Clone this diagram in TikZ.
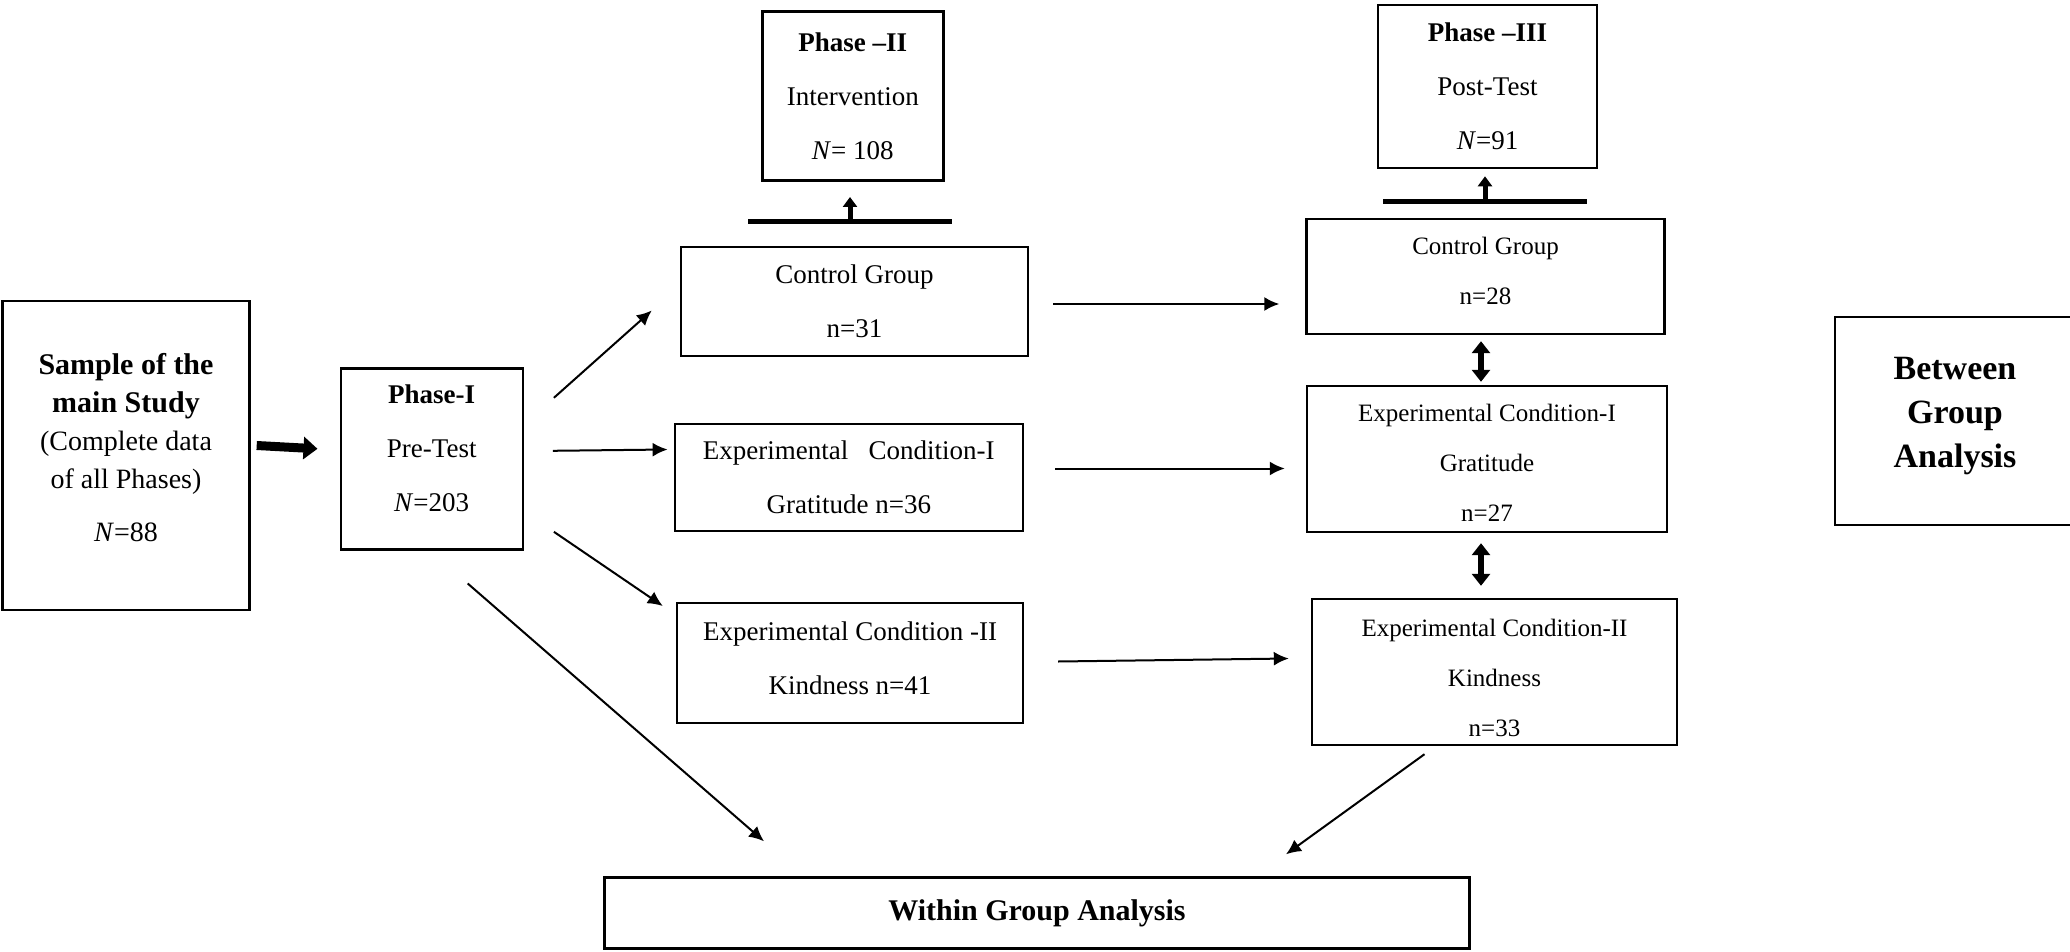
\documentclass[tikz,border=0pt]{standalone}
\usepackage{fontspec}
\setmainfont{Liberation Serif}
\usetikzlibrary{arrows.meta,calc}
\tikzset{
  box/.style={draw, line width=2.4pt, inner sep=0pt, align=center},
  bigtxt/.style={font=\fontsize{27}{54}\selectfont},
  smalltxt/.style={font=\fontsize{25}{50}\selectfont},
  arr/.style={line width=2pt, -{Latex[length=15pt,width=14pt]}},
  fatarr/.style={line width=9pt, -{Triangle[length=14pt,width=22pt]}},
  uparr/.style={line width=5pt, -{Triangle[length=10pt,width=14pt]}},
  dblarr/.style={line width=6pt, {Triangle[length=12pt,width=18pt]}-{Triangle[length=12pt,width=18pt]}},
  bar/.style={fill=black, minimum height=5pt, inner sep=0pt},
}
\begin{document}
\begin{tikzpicture}[x=1pt,y=-1pt]
\useasboundingbox (0,0) rectangle (2070,952);
% boxes
\node[box, minimum width=247pt, minimum height=309pt, font=\fontsize{28}{38}\selectfont, text depth=16pt] (sample) at (126,455.5)
  {{\fontsize{30}{38}\selectfont\textbf{Sample of the}}\\{\fontsize{30}{38}\selectfont\textbf{main Study}}\\(Complete data\\of all Phases)\\[15pt]\textit{N}=88};
\node[box, bigtxt, minimum width=182pt, minimum height=181pt, text depth=21pt] (phase1) at (431.7,458.8)
  {\textbf{Phase-I}\\Pre-Test\\\textit{N}=203};
\node[box, bigtxt, minimum width=181pt, minimum height=169pt] (phase2) at (852.8,96)
  {\textbf{Phase --II}\\Intervention\\\textit{N}= 108};
\node[box, bigtxt, minimum width=347pt, minimum height=109pt] (ctrl1) at (854.5,301.5)
  {Control Group\\n=31};
\node[box, bigtxt, minimum width=348pt, minimum height=107pt] (exp1a) at (848.8,477.5)
  {Experimental\ \ \ Condition-I\\Gratitude n=36};
\node[box, bigtxt, minimum width=346pt, minimum height=120pt, text depth=10pt] (exp2a) at (850,663)
  {Experimental Condition -II\\Kindness n=41};
\node[box, bigtxt, minimum width=219pt, minimum height=163pt] (phase3) at (1487.5,86.5)
  {\textbf{Phase --III}\\Post-Test\\\textit{N}=91};
\node[box, smalltxt, minimum width=358pt, minimum height=115pt, text depth=12pt] (ctrl2) at (1485.5,276.5)
  {Control Group\\n=28};
\node[box, smalltxt, minimum width=360pt, minimum height=146pt] (exp1b) at (1487,459)
  {\rule{0pt}{25pt}Experimental Condition-I\\Gratitude\\n=27};
\node[box, smalltxt, minimum width=365pt, minimum height=146pt] (exp2b) at (1494.5,672)
  {\rule{0pt}{29pt}Experimental Condition-II\\Kindness\\n=33};
\node[box, font=\fontsize{34}{44}\selectfont\bfseries, minimum width=240pt, minimum height=208pt, text depth=17pt] (between) at (1955,421)
  {Between\\Group\\Analysis};
\node[box, font=\fontsize{30}{36}\selectfont\bfseries, minimum width=865pt, minimum height=71pt] (within) at (1037,913)
  {Within Group Analysis};
% bars over the control groups
\node[bar, minimum width=204pt] (bar1) at (850,221.7) {};
\node[bar, minimum width=204pt] (bar2) at (1485,202) {};
% connectors
\draw[fatarr] ($(sample.east)+(6,-10)$) -- ($(phase1.west)+(-22,-10)$);
\draw[arr] ($(phase1.east)+(30,-61)$) -- ($(ctrl1.west)+(-28,9)$);
\draw[arr] ($(phase1.east)+(29,-8)$) -- ($(exp1a.west)+(-6,-28)$);
\draw[arr] ($(phase1.east)+(30,73)$) -- ($(exp2a.west)+(-13,-57)$);
\draw[arr] ($(phase1.south)+(36,33)$) -- ($(within.north)+(-273,-35)$);
\draw[arr] ($(ctrl1.east)+(24,2.5)$) -- ($(ctrl2.west)+(-26,27.5)$);
\draw[arr] ($(exp1a.east)+(31,-9)$) -- ($(exp1b.west)+(-21,9.5)$);
\draw[arr] ($(exp2a.east)+(34,-1.5)$) -- ($(exp2b.west)+(-22,-13.5)$);
\draw[arr] ($(exp2b.south)+(-70,8)$) -- ($(within.north)+(249,-22)$);
\draw[uparr] (bar1.north) -- ($(bar1.north)+(0,-22)$);
\draw[uparr] (bar2.north) -- ($(bar2.north)+(0,-23)$);
\draw[dblarr] ($(ctrl2.south)+(-4.5,6)$) -- ($(exp1b.north)+(-6,-3)$);
\draw[dblarr] ($(exp1b.south)+(-6,10)$) -- ($(exp2b.north)+(-13.5,-12)$);
\end{tikzpicture}
\end{document}
